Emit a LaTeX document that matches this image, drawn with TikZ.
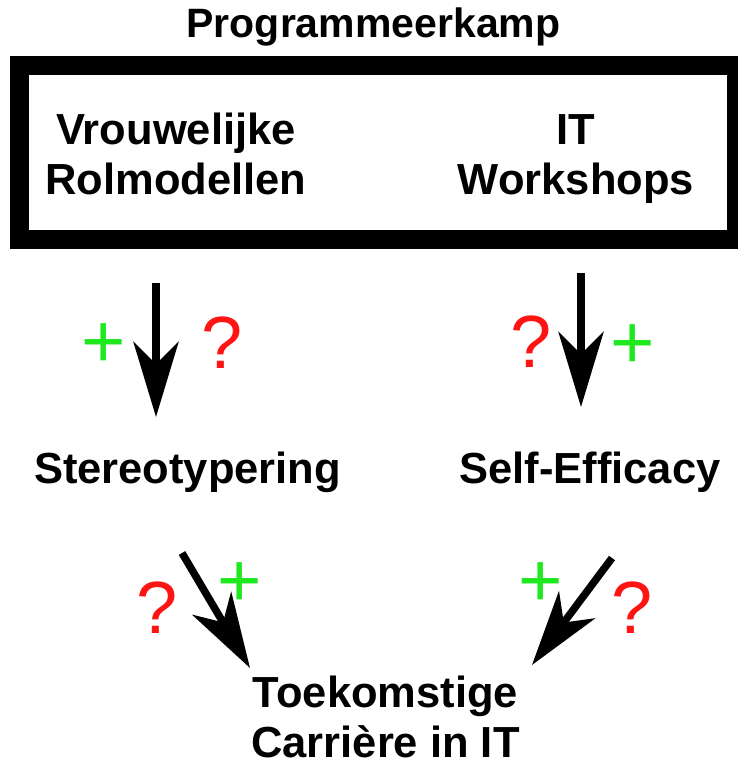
\documentclass[tikz,border=0pt]{standalone}
\usepackage{fontspec}
\setmainfont{Liberation Sans}
\usetikzlibrary{arrows.meta}
\definecolor{plusgroen}{RGB}{30,232,30}
\definecolor{vraagrood}{RGB}{255,20,20}
\tikzset{
  tekst/.style={font=\fontsize{43.5}{50}\selectfont\bfseries, align=center, inner sep=0pt, anchor=base},
  pijl/.style={line width=7.5pt, -{Stealth[length=75pt,width=45pt,inset=22pt]}},
  plusteken/.style={text=plusgroen, font=\fontsize{76}{76}\selectfont, inner sep=0pt, anchor=base},
  vraagteken/.style={text=vraagrood, font=\fontsize{74}{74}\selectfont, inner sep=0pt, anchor=base}
}
\begin{document}
\begin{tikzpicture}[x=1pt,y=-1pt]
\useasboundingbox (0,0) rectangle (737,770);
% kader met de twee onderdelen
\node[draw, line width=19pt, minimum width=717pt, minimum height=174pt, inner sep=0pt] (kamp) at (378,152.5) {};
\node[tekst, font=\fontsize{41}{50}\selectfont\bfseries] (titel) at (373.5,38) {Programmeerkamp};
\node[tekst] (rolmod) at (176,194) {Vrouwelijke\\Rolmodellen};
\node[tekst] (workshops) at (576,194) {IT\\Workshops};
% tussenliggende factoren
\node[tekst] (stereo) at (187.5,483) {Stereotypering};
\node[tekst] (efficacy) at (590,483) {Self-Efficacy};
\node[tekst] (carriere) at (385.5,757) {Toekomstige\\Carri\`ere in IT};
% pijlen
\coordinate (rolmod-uit) at (156,283);
\coordinate (stereo-in) at (156,417);
\coordinate (workshops-uit) at (581,273);
\coordinate (efficacy-in) at (581,407);
\coordinate (stereo-uit) at (182,553);
\coordinate (carriere-links) at (250,668);
\coordinate (efficacy-uit) at (612,558);
\coordinate (carriere-rechts) at (532,665);
\draw[pijl] (rolmod-uit) -- (stereo-in);
\draw[pijl] (workshops-uit) -- (efficacy-in);
\draw[pijl] (stereo-uit) -- (carriere-links);
\draw[pijl] (efficacy-uit) -- (carriere-rechts);
% tekens bij de pijlen
\node[plusteken] (p1) at (104,367) {+};
\node[vraagteken] (v1) at (222,368) {?};
\node[vraagteken] (v2) at (531,367) {?};
\node[plusteken] (p2) at (633,368) {+};
\node[vraagteken] (v3) at (157,633) {?};
\node[plusteken] (p3) at (240,606) {+};
\node[plusteken] (p4) at (541,606) {+};
\node[vraagteken] (v4) at (632,633) {?};
\end{tikzpicture}
\end{document}
